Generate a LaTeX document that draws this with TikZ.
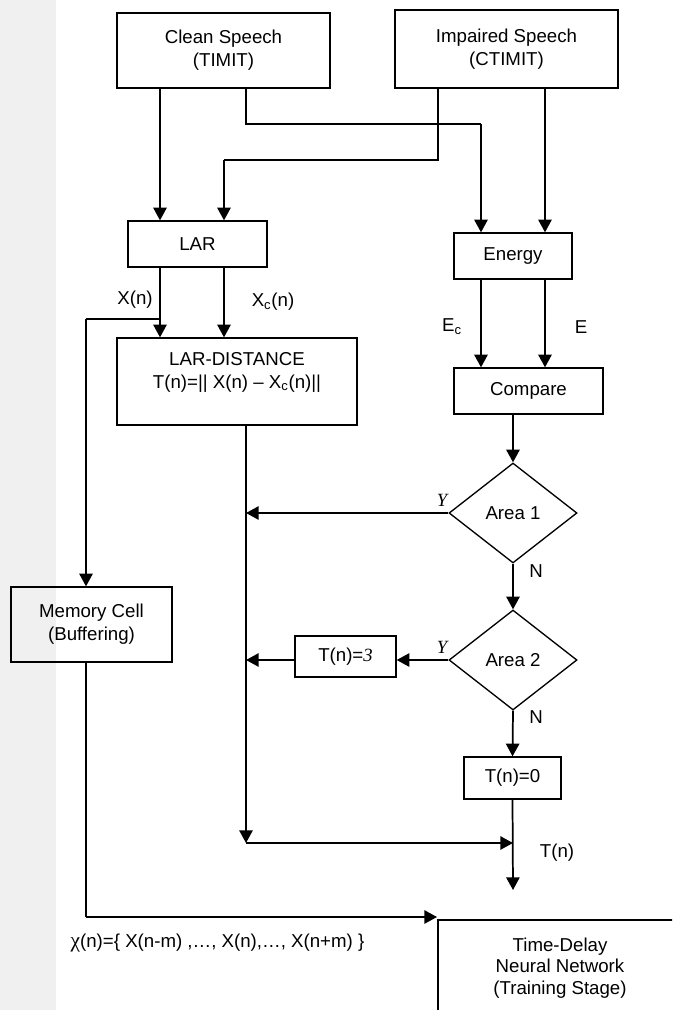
\documentclass[tikz,border=0pt]{standalone}
\usepackage{fontspec}
\setmainfont{Liberation Sans}
\newfontfamily\seriffont{Liberation Serif}
\usetikzlibrary{arrows.meta,shapes.geometric}
\definecolor{bgside}{RGB}{240,240,240}
\begin{document}
\begin{tikzpicture}[x=0.75pt,y=-0.75pt,
  font=\fontsize{14}{17.25}\selectfont,
  box/.style={draw, line width=1pt, inner sep=0pt, align=center},
  dia/.style={draw, diamond, line width=1pt, inner sep=0pt, minimum width=96pt, minimum height=75pt},
  conn/.style={line width=1.3pt},
  arr/.style={conn, -{Triangle[length=9.5pt,width=10pt]}},
  lbl/.style={inner sep=0pt},
  ital/.style={font=\fontsize{14}{17}\selectfont\seriffont\itshape}]
\useasboundingbox (0,0) rectangle (672,1010);
\clip (0,0) rectangle (672,1010);
\fill[white] (0,0) rectangle (672,1010);
\fill[bgside] (0,0) rectangle (56,1010);

% boxes
\node[box, minimum width=159.75pt, minimum height=56.25pt] (clean) at (223.5,50.5) {Clean Speech\\(TIMIT)};
\node[box, minimum width=167.25pt, minimum height=58.5pt] (imp) at (506.5,49) {Impaired Speech\\(CTIMIT)};
\node[box, minimum width=104.25pt, minimum height=34.5pt] (lar) at (197.5,244) {LAR};
\node[box, minimum width=88.5pt, minimum height=34.5pt] (energy) at (513,256) {Energy};
\node[box, minimum width=180pt, minimum height=65.25pt] (dist) at (237,381.5) {LAR-DISTANCE\\T(n)=|| X(n) – X\textsubscript{c}(n)||\\\mbox{}};
\node[box, minimum width=111.75pt, minimum height=34.5pt] (cmp) at (528.5,391) {Compare};
\node[dia] (a1) at (513,513) {Area 1};
\node[dia] (a2) at (513,660) {Area 2};
\node[box, minimum width=75.75pt, minimum height=30.75pt] (t3) at (345.5,656.5) {T(n)={\seriffont\itshape 3}};
\node[box, minimum width=72.75pt, minimum height=31.5pt] (t0) at (512.5,778) {T(n)=0};
\node[box, minimum width=120.75pt, minimum height=56.25pt] (mem) at (91.5,624.5) {Memory Cell\\(Buffering)};
\node[box, minimum width=183pt, minimum height=72pt, font=\fontsize{14}{16.1}\selectfont] (tdnn) at (560,968) {Time-Delay\\Neural Network\\(Training Stage)};

% turning points
\coordinate (k1) at (246,124);
\coordinate (k2) at (481,124);
\coordinate (k3) at (438,160);
\coordinate (k4) at (224,160);
\coordinate (k5) at (545,0);
\coordinate (k6) at (160,319);
\coordinate (k7) at (86,319);
\coordinate (k8) at (246,843);
\coordinate (k9) at (513,843);
\coordinate (k10) at (513,890);
\coordinate (k11) at (86,917);
\coordinate (k12) at (437,917);

% connectors
\draw[arr] (clean.south -| k6) -- (lar.north -| k6);
\draw[conn] (clean.south -| k1) -- (k1) -- (k2);
\draw[arr] (k2) -- (energy.north -| k2);
\draw[conn] (imp.south -| k3) -- (k3) -- (k4);
\draw[arr] (k4) -- (lar.north -| k4);
\draw[arr] (imp.south -| k5) -- (energy.north -| k5);
\draw[arr] (lar.south -| k6) -- (dist.north -| k6);
\draw[conn] (k6) -- (k7);
\draw[arr] (k7) -- (mem.north -| k7);
\draw[arr] (lar.south -| k4) -- (dist.north -| k4);
\draw[arr] (dist.south -| k8) -- (k8);
\draw[arr] (k8) -- (k9);
\draw[arr] (energy.south -| k2) -- (cmp.north -| k2);
\draw[arr] (energy.south -| k5) -- (cmp.north -| k5);
\draw[arr] (cmp.south -| a1.north) -- (a1.north);
\draw[arr] (a1.west) -- (a1.west -| k8);
\draw[arr] (a1.south) -- (a2.north);
\draw[arr] (a2.west) -- (a2.west -| t3.east);
\draw[arr] (a2.west -| t3.west) -- (a2.west -| k8);
\draw[arr] (a2.south) -- (t0.north);
\draw[arr] (t0.south) -- (k10);
\draw[conn] (mem.south -| k11) -- (k11);
\draw[arr] (k11) -- (k12);

% labels
\node[lbl] (lxn) at (135,300) {X(n)};
\node[lbl] (lxc) at (273,302) {X\textsubscript{c}(n)};
\node[lbl] (lec) at (452,327) {E\textsubscript{c}};
\node[lbl] (le) at (581,327) {E};
\node[lbl, ital] (ly1) at (442,500) {Y};
\node[lbl, ital] (ly2) at (442,647) {Y};
\node[lbl] (ln1) at (536,571) {N};
\node[lbl] (ln2) at (536,717) {N};
\node[lbl] (ltn) at (557,853) {T(n)};
\node[lbl] (lchi) at (217.5,943) {{\fontsize{16}{17}\selectfont\seriffont χ}(n)=\{ X(n-m) ,…, X(n),…, X(n+m) \}};
\end{tikzpicture}
\end{document}
